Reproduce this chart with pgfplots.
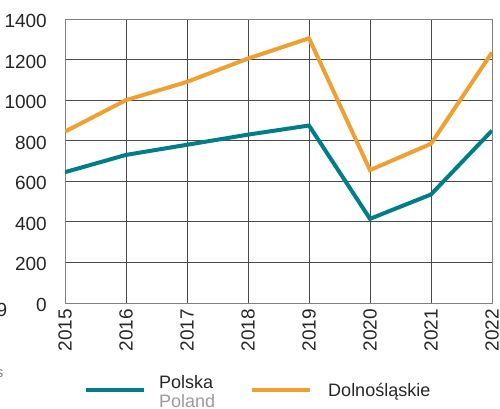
\documentclass[border=0pt]{standalone}
\usepackage{fontspec}
\setmainfont{Liberation Sans}
\usepackage{pgfplots}
\pgfplotsset{compat=1.18}
\definecolor{teal1}{HTML}{007D89}
\definecolor{orange1}{HTML}{EFA032}
\definecolor{gridc}{HTML}{4A4A4A}
\definecolor{poland}{HTML}{9A9A9A}
\begin{document}
\begin{tikzpicture}[x=1pt,y=1pt]
\path[use as bounding box] (0,0) rectangle (500,408);
\clip (0,0) rectangle (500,408);
\begin{axis}[
  at={(65pt,105pt)}, anchor=south west,
  scale only axis, width=427pt, height=284pt,
  xmin=2015, xmax=2022, ymin=0, ymax=1400,
  xtick={2015,2016,2017,2018,2019,2020,2021,2022},
  xticklabels={2015,2016,2017,2018,2019,2020,2021,2022},
  ytick={0,200,400,600,800,1000,1200,1400},
  yticklabels={0,200,400,600,800,1000,1200,1400},
  grid=major, major grid style={gridc, line width=1pt},
  axis line style={gray, line width=1pt},
  tick style={draw=none},
  ticklabel style={font=\fontsize{19}{20}\selectfont, text=black!85, inner sep=0pt},
  yticklabel style={anchor=east, yshift=-2pt},
  xticklabel style={rotate=90, anchor=east},
  yticklabel shift=18pt, xticklabel shift=6pt,
  legend columns=2, legend cell align=left,
  legend image code/.code={\draw[#1, line width=4pt] (0pt,1.5pt) -- (58pt,1.5pt);},
  legend style={at={(axis description cs:0.0445,-0.31)}, anchor=west, draw=none, fill=none,
    inner sep=0pt, font=\fontsize{18}{18.3}\selectfont, text=black!85,
    nodes={inner sep=0pt},
    column sep=13pt, /tikz/every even column/.append style={column sep=35pt},
    /tikz/column 3/.append style={column sep=16pt}},
]
\addplot[teal1, line width=4pt] coordinates {
(2015,645) (2016,730) (2017,780) (2018,830) (2019,875) (2020,415) (2021,535) (2022,850)};
\addlegendentry{\raisebox{6pt}{\begin{tabular}{@{}l@{}}Polska\\\textcolor{poland}{Poland}\end{tabular}}}
\addplot[orange1, line width=4pt] coordinates {
(2015,845) (2016,1000) (2017,1090) (2018,1205) (2019,1305) (2020,655) (2021,785) (2022,1235)};
\addlegendentry{Dolnośląskie}
\end{axis}
\node[anchor=base east, font=\fontsize{19}{20}\selectfont, text=black!85, inner sep=0pt] at (7.5,92) {9};
\node[anchor=base east, font=\fontsize{15}{15}\selectfont, text=gray, inner sep=0pt] at (3.5,31) {s};
\end{tikzpicture}
\end{document}
